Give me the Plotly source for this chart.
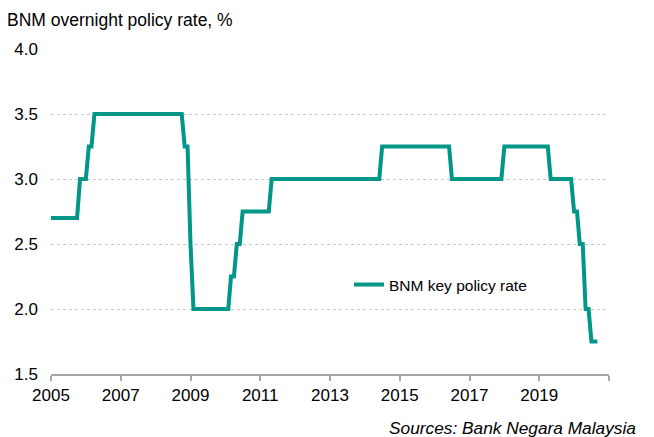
import pandas as pd
import plotly.graph_objects as go

# Monthly BNM overnight policy rate (%), month-end values, Jan 2005 - Sep 2020
rate_2005 = [2.70, 2.70, 2.70, 2.70, 2.70, 2.70, 2.70, 2.70, 2.70, 2.70, 3.00, 3.00]
rate_2006 = [3.00, 3.25, 3.25, 3.50, 3.50, 3.50, 3.50, 3.50, 3.50, 3.50, 3.50, 3.50]
rate_2007 = [3.50, 3.50, 3.50, 3.50, 3.50, 3.50, 3.50, 3.50, 3.50, 3.50, 3.50, 3.50]
rate_2008 = [3.50, 3.50, 3.50, 3.50, 3.50, 3.50, 3.50, 3.50, 3.50, 3.50, 3.25, 3.25]
rate_2009 = [2.50, 2.00, 2.00, 2.00, 2.00, 2.00, 2.00, 2.00, 2.00, 2.00, 2.00, 2.00]
rate_2010 = [2.00, 2.00, 2.25, 2.25, 2.50, 2.50, 2.75, 2.75, 2.75, 2.75, 2.75, 2.75]
rate_2011 = [2.75, 2.75, 2.75, 2.75, 3.00, 3.00, 3.00, 3.00, 3.00, 3.00, 3.00, 3.00]
rate_2012 = [3.00, 3.00, 3.00, 3.00, 3.00, 3.00, 3.00, 3.00, 3.00, 3.00, 3.00, 3.00]
rate_2013 = [3.00, 3.00, 3.00, 3.00, 3.00, 3.00, 3.00, 3.00, 3.00, 3.00, 3.00, 3.00]
rate_2014 = [3.00, 3.00, 3.00, 3.00, 3.00, 3.00, 3.25, 3.25, 3.25, 3.25, 3.25, 3.25]
rate_2015 = [3.25, 3.25, 3.25, 3.25, 3.25, 3.25, 3.25, 3.25, 3.25, 3.25, 3.25, 3.25]
rate_2016 = [3.25, 3.25, 3.25, 3.25, 3.25, 3.25, 3.00, 3.00, 3.00, 3.00, 3.00, 3.00]
rate_2017 = [3.00, 3.00, 3.00, 3.00, 3.00, 3.00, 3.00, 3.00, 3.00, 3.00, 3.00, 3.00]
rate_2018 = [3.25, 3.25, 3.25, 3.25, 3.25, 3.25, 3.25, 3.25, 3.25, 3.25, 3.25, 3.25]
rate_2019 = [3.25, 3.25, 3.25, 3.25, 3.00, 3.00, 3.00, 3.00, 3.00, 3.00, 3.00, 3.00]
rate_2020 = [2.75, 2.75, 2.50, 2.50, 2.00, 2.00, 1.75, 1.75, 1.75]

rates = (rate_2005 + rate_2006 + rate_2007 + rate_2008 + rate_2009 + rate_2010 +
         rate_2011 + rate_2012 + rate_2013 + rate_2014 + rate_2015 + rate_2016 +
         rate_2017 + rate_2018 + rate_2019 + rate_2020)
dates = pd.date_range("2005-01-01", periods=len(rates), freq="MS")

tick_years = [2005, 2007, 2009, 2011, 2013, 2015, 2017, 2019, 2021]
tick_labels = ["2005", "2007", "2009", "2011", "2013", "2015", "2017", "2019", ""]
y_ticks = [1.5, 2.0, 2.5, 3.0, 3.5, 4.0]

FONT = "Liberation Sans, Arial, sans-serif"
LINE_COLOR = "rgb(0,150,136)"

fig = go.Figure()
fig.add_trace(go.Scatter(
    x=dates, y=rates, mode="lines", name="BNM key policy rate",
    line=dict(color=LINE_COLOR, width=4),
))

fig.update_layout(
    width=654, height=437,
    margin=dict(l=51, r=45, t=49, b=63),
    paper_bgcolor="white", plot_bgcolor="white",
    font=dict(family=FONT, size=17, color="black"),
    title=dict(text="BNM overnight policy rate, %", x=7 / 654, xref="container",
               xanchor="left", y=1 - 20 / 437, yref="container", yanchor="middle",
               font=dict(family=FONT, size=17.5, color="black")),
    showlegend=True,
    legend=dict(x=0.534, y=0.274, xanchor="left", yanchor="middle",
                bgcolor="rgba(0,0,0,0)", font=dict(family=FONT, size=15.5),
                itemwidth=30),
    xaxis=dict(
        type="date",
        range=["2005-01-01", "2021-01-01"],
        tickmode="array",
        tickvals=[f"{y}-01-01" for y in tick_years],
        ticktext=tick_labels,
        showgrid=False, zeroline=False,
        showline=True, linecolor="#A6A6A6", linewidth=1.5,
        ticks="outside", ticklen=5, tickcolor="#A6A6A6", tickwidth=1.5,
        tickfont=dict(family=FONT, size=17),
    ),
    yaxis=dict(
        range=[1.5, 4.0],
        tickmode="array", tickvals=y_ticks,
        ticktext=[f"{v:.1f}" for v in y_ticks],
        showgrid=True, gridcolor="#C8C8C8", gridwidth=1, griddash="dot",
        zeroline=False, showline=False, ticks="",
        ticklabelstandoff=12,
        tickfont=dict(family=FONT, size=17),
    ),
    annotations=[dict(
        text="<i>Sources: Bank Negara Malaysia</i>", xref="paper", yref="paper",
        x=(638 - 51) / 558, y=(374 - 428) / 325, xanchor="right", yanchor="middle",
        showarrow=False, font=dict(family=FONT, size=17.3, color="black"),
    )],
)

fig.write_html("out.html")
